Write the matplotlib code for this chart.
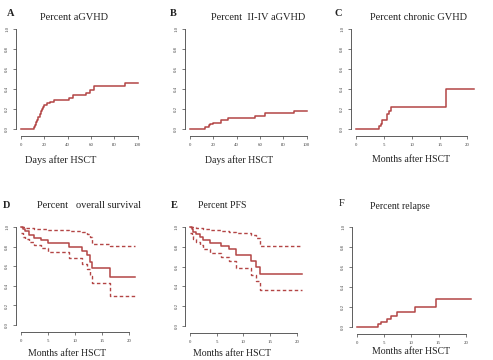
import numpy as np
import matplotlib.pyplot as plt

W, H = 493, 360

# panel A: acute GVHD, days
A_days = [0, 11, 12, 13, 14, 15, 16, 17, 18, 19, 20, 22, 25, 28, 41, 45, 56, 59, 63, 89, 100]
A_cum = [0, 0.02, 0.04, 0.07, 0.09, 0.12, 0.15, 0.18, 0.20, 0.22, 0.24, 0.26, 0.27, 0.295,
         0.31, 0.34, 0.36, 0.39, 0.43, 0.46, 0.46]

# panel B: grade II-IV aGVHD
B_days = [0, 13, 16, 17, 19.5, 27, 33, 56, 64, 89, 100]
B_cum = [0, 0.02, 0.04, 0.05, 0.065, 0.087, 0.107, 0.13, 0.158, 0.185, 0.185]

# panel C: chronic GVHD, months
C_months = [0, 4.15, 4.4, 4.75, 5.5, 5.9, 6.2, 16.1, 21.1]
C_cum = [0, 0.027, 0.054, 0.087, 0.15, 0.18, 0.22, 0.40, 0.40]

# panel D: overall survival with CI
D_months = [0, 0.4, 0.7, 1.5, 2.5, 3.7, 5.1, 8.9, 11.3, 12.2, 12.8, 13.2, 16.5, 21.2]
D_surv = [1.0, 0.98, 0.96, 0.92, 0.89, 0.87, 0.84, 0.80, 0.75, 0.71, 0.64, 0.58, 0.49, 0.49]
D_upper = [1.0, 0.995, 0.99, 0.985, 0.98, 0.975, 0.97, 0.955, 0.945, 0.93, 0.90, 0.83, 0.81, 0.81]
D_lower = [0.94, 0.90, 0.88, 0.85, 0.82, 0.79, 0.74, 0.68, 0.62, 0.57, 0.50, 0.43, 0.30, 0.30]

# panel E: PFS with CI
E_months = [0, 0.3, 0.6, 1.2, 1.8, 2.5, 3.8, 5.8, 7.3, 8.7, 11.4, 12.4, 13.0, 21.0]
E_surv = [1.0, 0.98, 0.95, 0.93, 0.90, 0.87, 0.84, 0.81, 0.78, 0.72, 0.66, 0.60, 0.53, 0.53]
E_upper = [1.0, 1.0, 0.995, 0.99, 0.985, 0.98, 0.97, 0.96, 0.95, 0.94, 0.92, 0.89, 0.81, 0.81]
E_lower = [0.94, 0.91, 0.88, 0.85, 0.82, 0.78, 0.74, 0.70, 0.66, 0.59, 0.52, 0.45, 0.36, 0.36]

# panel F: relapse
F_months = [0, 3.86, 4.45, 5.5, 6.2, 7.3, 10.7, 14.5, 21.0]
F_cum = [0, 0.027, 0.054, 0.08, 0.114, 0.148, 0.20, 0.285, 0.285]

yticks = [0.0, 0.2, 0.4, 0.6, 0.8, 1.0]
day_ticks = [0, 20, 40, 60, 80, 100]
month_ticks = [0, 5, 10, 15, 20]

red = '#b34545'
serif = 'Liberation Serif'

fig = plt.figure(figsize=(W / 100, H / 100), dpi=100)


def make_ax(left, top, width, height, xlim, xticks):
    ax = fig.add_axes([left / W, 1 - (top + height) / H, width / W, height / H])
    ax.set_xlim(*xlim)
    ax.set_ylim(-0.04, 1.04)
    for s in ['top', 'right']:
        ax.spines[s].set_visible(False)
    ax.spines['bottom'].set_bounds(xticks[0], xticks[-1])
    ax.spines['left'].set_bounds(0, 1)
    ax.spines['bottom'].set_position(('outward', 2))
    for s in ['left', 'bottom']:
        ax.spines[s].set_linewidth(0.6)
        ax.spines[s].set_color('#444444')
    ax.set_xticks(xticks)
    ax.set_yticks(yticks)
    ax.set_xticklabels([str(t) for t in xticks], fontsize=3.5, family=serif)
    ax.set_yticklabels(['%.1f' % t for t in yticks], fontsize=3.5, family=serif,
                       rotation=90, va='center')
    ax.tick_params(length=2, width=0.5, color='#444444', pad=3, labelcolor='#444444')
    ax.patch.set_alpha(0)
    return ax


def label(x, y, s, size, ha='center', bold=False):
    fig.text(x / W, 1 - y / H, s, fontsize=size, family=serif, ha=ha, va='center',
             fontweight='bold' if bold else 'normal', color='#222222')


# top row
axA = make_ax(16.3, 25, 126, 108, (-4, 104), day_ticks)
axA.step(A_days, A_cum, where='post', color=red, lw=1.1)
axB = make_ax(185.3, 25, 126, 108, (-4, 104), day_ticks)
axB.step(B_days, B_cum, where='post', color=red, lw=1.1)
axC = make_ax(351.3, 25, 127, 108, (-0.84, 21.94), month_ticks)
axC.step(C_months, C_cum, where='post', color=red, lw=1.1)

# bottom row
dash = (0, (2.5, 1.8))
axD = make_ax(16.3, 223, 123, 106, (-0.84, 21.94), month_ticks)
axD.step(D_months, D_surv, where='post', color=red, lw=1.1)
axD.step(D_months, D_upper, where='post', color=red, lw=1.0, ls=dash)
axD.step(D_months, D_lower, where='post', color=red, lw=1.0, ls=dash)
axE = make_ax(185.4, 223, 122, 107, (-0.84, 21.94), month_ticks)
axE.step(E_months, E_surv, where='post', color=red, lw=1.1)
axE.step(E_months, E_upper, where='post', color=red, lw=1.0, ls=dash)
axE.step(E_months, E_lower, where='post', color=red, lw=1.0, ls=dash)
axF = make_ax(352.3, 223, 124, 108, (-0.84, 21.94), month_ticks)
axF.step(F_months, F_cum, where='post', color=red, lw=1.1)

# panel letters, titles, axis labels
label(11, 13, 'A', 7.5, bold=True)
label(74, 18, 'Percent aGVHD', 7.5)
label(61, 160, 'Days after HSCT', 7.4)
label(173, 13, 'B', 7.5, bold=True)
label(258, 18, 'Percent  II-IV aGVHD', 7.5)
label(239, 160, 'Days after HSCT', 7)
label(338, 13, 'C', 7.5, bold=True)
label(418, 18, 'Percent chronic GVHD', 7.5)
label(411, 159, 'Months after HSCT', 7)
label(7, 206, 'D', 7.5, bold=True)
label(89, 206, 'Percent   overall survival', 7.5)
label(67, 353, 'Months after HSCT', 7)
label(174, 205, 'E', 7.5, bold=True)
label(222, 206, 'Percent PFS', 7)
label(232, 353, 'Months after HSCT', 7)
label(342, 204, 'F', 7.5)
label(400, 207, 'Percent relapse', 7)
label(411, 352, 'Months after HSCT', 7)

fig.savefig('out.png', dpi=100)
